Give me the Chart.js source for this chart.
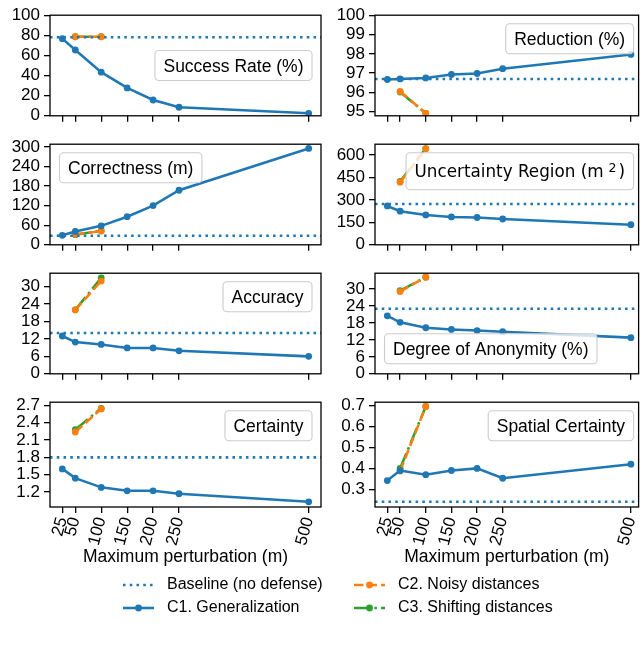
<!DOCTYPE html>
<html><head><meta charset="utf-8">
<script src="https://cdn.jsdelivr.net/npm/chart.js@4.4.1/dist/chart.umd.min.js"></script>
<style>
html,body{margin:0;padding:0;background:#fff;}
#wrap{position:relative;width:642px;height:648px;overflow:hidden;background:#fff;}
#wrap canvas{position:absolute;}
</style></head><body><div id="wrap"></div>
<script>
// ---------------- data ----------------
const X_VALUES = [25, 50, 100, 150, 200, 250, 500];
const X_DEFENSE = [50, 100];
const X_TICKS = [25, 50, 100, 150, 200, 250, 500];

const successBaseline = 78;
const successC1 = [76.7, 65.4, 43.4, 27.7, 15.7, 8.5, 2.5];
const successC2 = [78.6, 78.6];
const successC3 = [78.6, 78.6];
const successTicks = [0, 20, 40, 60, 80, 100];

const reductionBaseline = 96.7;
const reductionC1 = [96.67, 96.70, 96.75, 96.93, 96.98, 97.23, 97.97];
const reductionC2 = [96.05, 94.92];
const reductionC3 = [96.02, 94.92];
const reductionTicks = [95, 96, 97, 98, 99, 100];

const correctnessBaseline = 28;
const correctnessC1 = [29, 41, 58, 86, 120, 167, 295];
const correctnessC2 = [32, 42];
const correctnessC3 = [31, 43];
const correctnessTicks = [0, 60, 120, 180, 240, 300];

const uncertaintyBaseline = 272;
const uncertaintyC1 = [259, 224, 199, 186, 182, 172, 134];
const uncertaintyC2 = [418, 640];
const uncertaintyC3 = [423, 642];
const uncertaintyTicks = [0, 150, 300, 450, 600];

const accuracyBaseline = 14;
const accuracyC1 = [13, 10.9, 10.1, 8.9, 8.9, 7.9, 6];
const accuracyC2 = [22, 31.9];
const accuracyC3 = [22, 33];
const accuracyTicks = [0, 6, 12, 18, 24, 30];

const anonymityBaseline = 23;
const anonymityC1 = [20.5, 18.2, 16.3, 15.7, 15.3, 14.9, 12.8];
const anonymityC2 = [29.1, 34.2];
const anonymityC3 = [29.4, 34.2];
const anonymityTicks = [0, 6, 12, 18, 24, 30];

const certaintyBaseline = 1.8;
const certaintyC1 = [1.6, 1.44, 1.28, 1.22, 1.22, 1.17, 1.03];
const certaintyC2 = [2.24, 2.64];
const certaintyC3 = [2.28, 2.65];
const certaintyTicks = [1.2, 1.5, 1.8, 2.1, 2.4, 2.7];

const spatialBaseline = 0.241;
const spatialC1 = [0.342, 0.39, 0.37, 0.39, 0.40, 0.353, 0.42];
const spatialC2 = [0.387, 0.695];
const spatialC3 = [0.40, 0.695];
const spatialTicks = [0.3, 0.4, 0.5, 0.6, 0.7];

const SERIES_NAMES = ['Baseline (no defense)', 'C1. Generalization', 'C2. Noisy distances', 'C3. Shifting distances'];
const X_TITLE = 'Maximum perturbation (m)';

// ---------------- styles / layout ----------------
const BLUE = '#1f77b4', ORANGE = '#ff7f0e', GREEN = '#2ca02c';
const LW = 2.55;
const DASH_DOT = [LW * 1.0, LW * 1.65];
const DASH_DASH = [LW * 3.7, LW * 1.6];
const DASH_DASHDOT = [LW * 6.4, LW * 1.6, LW * 1.0, LW * 1.6];
const MARKER_R = 3.4;
const FONT = "'Liberation Sans', Arial, Helvetica, sans-serif";
const TICK_SIZE = 17;
const LABEL_SIZE = 17.5;

const ROW_TOP = [13, 142, 271, 400];
const ROW_H = 107;
const COLS = [
  {canvasLeft: 0, canvasWidth: 335, yAxisW: 50, padRight: 14, xMin: 1.25, xMax: 523.75, insetR: 9},
  {canvasLeft: 330, canvasWidth: 312, yAxisW: 45, padRight: 1, xMin: 1.0, xMax: 515, insetR: 5}
];

const PANELS = [
  {label: [{t: 'Success Rate (%)'}], base: successBaseline, c1: successC1, c2: successC2, c3: successC3, ticks: successTicks, yMin: 0, yMax: 100, col: 0, row: 0, anchor: 'cr'},
  {label: [{t: 'Reduction (%)'}], base: reductionBaseline, c1: reductionC1, c2: reductionC2, c3: reductionC3, ticks: reductionTicks, yMin: 94.79, yMax: 100, col: 1, row: 0, anchor: 'ur'},
  {label: [{t: 'Correctness (m)'}], base: correctnessBaseline, c1: correctnessC1, c2: correctnessC2, c3: correctnessC3, ticks: correctnessTicks, yMin: 0, yMax: 308, col: 0, row: 1, anchor: 'ul'},
  {label: [{t: 'Uncertainty Region (m', f: "'DejaVu Sans', sans-serif", s: 16.8}, {t: '2', f: "'DejaVu Sans', sans-serif", s: 12.5, rise: 5, gap: 5}, {t: ')', f: "'DejaVu Sans', sans-serif", s: 16.8, gap: 2}], bh: 37, base: uncertaintyBaseline, c1: uncertaintyC1, c2: uncertaintyC2, c3: uncertaintyC3, ticks: uncertaintyTicks, yMin: 0, yMax: 671, col: 1, row: 1, anchor: 'ur'},
  {label: [{t: 'Accuracy'}], base: accuracyBaseline, c1: accuracyC1, c2: accuracyC2, c3: accuracyC3, ticks: accuracyTicks, yMin: 0, yMax: 34.6, col: 0, row: 2, anchor: 'ur'},
  {label: [{t: 'Degree of Anonymity (%)'}], base: anonymityBaseline, c1: anonymityC1, c2: anonymityC2, c3: anonymityC3, ticks: anonymityTicks, yMin: 0, yMax: 35.6, col: 1, row: 2, anchor: 'll'},
  {label: [{t: 'Certainty'}], base: certaintyBaseline, c1: certaintyC1, c2: certaintyC2, c3: certaintyC3, ticks: certaintyTicks, yMin: 0.94, yMax: 2.756, col: 0, row: 3, anchor: 'ur'},
  {label: [{t: 'Spatial Certainty'}], base: spatialBaseline, c1: spatialC1, c2: spatialC2, c3: spatialC3, ticks: spatialTicks, yMin: 0.216, yMax: 0.7155, col: 1, row: 3, anchor: 'ur'}
];

Chart.defaults.font.family = FONT;
Chart.defaults.color = '#000';
Chart.defaults.animation = false;

const wrap = document.getElementById('wrap');

function roundRect(ctx, x, y, w, h, r) {
  ctx.beginPath();
  ctx.moveTo(x + r, y);
  ctx.lineTo(x + w - r, y); ctx.arcTo(x + w, y, x + w, y + r, r);
  ctx.lineTo(x + w, y + h - r); ctx.arcTo(x + w, y + h, x + w - r, y + h, r);
  ctx.lineTo(x + r, y + h); ctx.arcTo(x, y + h, x, y + h - r, r);
  ctx.lineTo(x, y + r); ctx.arcTo(x, y, x + r, y, r);
  ctx.closePath();
}

function makeFramePlugin(p, col) {
  return {
    id: 'frameAndBox',
    afterDatasetsDraw(chart) {
      const ctx = chart.ctx, a = chart.chartArea;
      ctx.save();
      ctx.lineWidth = 1.3; ctx.strokeStyle = '#000';
      ctx.strokeRect(a.left, a.top, a.right - a.left, a.bottom - a.top);
      const parts = p.label.map(pt => {
        const size = pt.s || LABEL_SIZE, fam = pt.f || FONT;
        ctx.font = size + 'px ' + fam;
        return {t: pt.t, font: ctx.font, size, w: ctx.measureText(pt.t).width, gap: pt.gap || 0, rise: pt.rise || 0};
      });
      const textW = parts.reduce((s, q) => s + q.w + q.gap, 0);
      const padX = 8.5, bh = p.bh || 30, bw = textW + 2 * padX;
      const insetR = col.insetR, insetT = 8.5, insetL = 9.5, insetB = 10;
      let bx, by;
      if (p.anchor === 'cr') { bx = a.right - insetR - bw; by = (a.top + a.bottom) / 2 - bh / 2; }
      else if (p.anchor === 'ur') { bx = a.right - insetR - bw; by = a.top + insetT; }
      else if (p.anchor === 'ul') { bx = a.left + insetL; by = a.top + insetT; }
      else { bx = a.left + insetL; by = a.bottom - insetB - bh; }
      roundRect(ctx, bx, by, bw, bh, 4);
      ctx.fillStyle = 'rgba(255,255,255,0.8)'; ctx.fill();
      ctx.lineWidth = 1.1; ctx.strokeStyle = '#cccccc'; ctx.stroke();
      const mainSize = parts[0].size;
      const baseY = by + bh / 2 + 0.36 * mainSize;
      let tx = bx + padX;
      ctx.fillStyle = '#000'; ctx.textBaseline = 'alphabetic'; ctx.textAlign = 'left';
      parts.forEach(q => {
        tx += q.gap;
        ctx.font = q.font;
        ctx.fillText(q.t, tx, baseY - q.rise);
        tx += q.w;
      });
      ctx.restore();
    }
  };
}

function pts(xs, ys) { return xs.map((x, i) => ({x: x, y: ys[i]})); }

PANELS.forEach(p => {
  const col = COLS[p.col];
  const bottomRow = p.row === 3;
  const xAxisH = bottomRow ? 61 : 10;
  const padTop = 12;
  const cTop = ROW_TOP[p.row] - padTop;
  const cHeight = padTop + ROW_H + xAxisH;
  const canvas = document.createElement('canvas');
  canvas.width = col.canvasWidth; canvas.height = cHeight;
  canvas.style.left = col.canvasLeft + 'px'; canvas.style.top = cTop + 'px';
  canvas.style.width = col.canvasWidth + 'px'; canvas.style.height = cHeight + 'px';
  wrap.appendChild(canvas);

  const lineBase = {fill: false, tension: 0, pointBorderWidth: 0, pointHoverRadius: 0};
  new Chart(canvas, {
    type: 'line',
    data: {
      datasets: [
        Object.assign({}, lineBase, {label: SERIES_NAMES[0], data: pts([col.xMin, col.xMax], [p.base, p.base]), borderColor: BLUE, borderWidth: LW, borderDash: DASH_DOT, pointRadius: 0}),
        Object.assign({}, lineBase, {label: SERIES_NAMES[1], data: pts(X_VALUES, p.c1), borderColor: BLUE, backgroundColor: BLUE, pointBackgroundColor: BLUE, borderWidth: LW, pointRadius: MARKER_R}),
        Object.assign({}, lineBase, {label: SERIES_NAMES[2], data: pts(X_DEFENSE, p.c2), borderColor: ORANGE, backgroundColor: ORANGE, pointBackgroundColor: ORANGE, borderWidth: LW, borderDash: DASH_DASH, pointRadius: MARKER_R}),
        Object.assign({}, lineBase, {label: SERIES_NAMES[3], data: pts(X_DEFENSE, p.c3), borderColor: GREEN, backgroundColor: GREEN, pointBackgroundColor: GREEN, borderWidth: LW, borderDash: DASH_DASHDOT, pointRadius: MARKER_R})
      ]
    },
    options: {
      responsive: false, maintainAspectRatio: false, animation: false, events: [],
      devicePixelRatio: 1,
      layout: {padding: {top: padTop, left: 0, right: col.padRight, bottom: 0}},
      plugins: {legend: {display: false}, tooltip: {enabled: false}, title: {display: false}},
      scales: {
        x: {
          type: 'linear', min: col.xMin, max: col.xMax,
          afterBuildTicks: s => { s.ticks = X_TICKS.map(v => ({value: v})); },
          afterFit: s => { s.height = xAxisH; s.paddingLeft = 0; s.paddingRight = 0; },
          ticks: {display: bottomRow, autoSkip: false, minRotation: 75, maxRotation: 75, padding: 2, font: {size: TICK_SIZE}, color: '#000', callback: v => String(v)},
          grid: {display: true, drawOnChartArea: false, drawTicks: true, tickLength: 6, color: '#000', lineWidth: 1.3},
          border: {display: false},
          title: {display: bottomRow, text: X_TITLE, font: {size: LABEL_SIZE}, color: '#000', padding: {top: 0, bottom: 0}}
        },
        y: {
          type: 'linear', min: p.yMin, max: p.yMax,
          afterBuildTicks: s => { s.ticks = p.ticks.map(v => ({value: v})); },
          afterFit: s => { s.width = col.yAxisW; },
          ticks: {autoSkip: false, font: {size: TICK_SIZE}, color: '#000', padding: 4, callback: v => String(v)},
          grid: {display: true, drawOnChartArea: false, drawTicks: true, tickLength: 6, color: '#000', lineWidth: 1.3},
          border: {display: false}
        }
      }
    },
    plugins: [makeFramePlugin(p, col)]
  });
});

// ---------------- legend ----------------
function makeHandle(color, dash, marker) {
  const c = document.createElement('canvas');
  c.width = 36; c.height = 14;
  const g = c.getContext('2d');
  g.strokeStyle = color; g.lineWidth = LW; g.setLineDash(dash);
  g.beginPath(); g.moveTo(0, 7); g.lineTo(31, 7); g.stroke();
  if (marker) { g.fillStyle = color; g.beginPath(); g.arc(15.5, 7, MARKER_R, 0, Math.PI * 2); g.fill(); }
  return c;
}

const LEGEND_GROUPS = [
  {left: 116, items: [[SERIES_NAMES[0], BLUE, DASH_DOT, false], [SERIES_NAMES[1], BLUE, [], true]]},
  {left: 347, items: [[SERIES_NAMES[2], ORANGE, DASH_DASH, true], [SERIES_NAMES[3], GREEN, DASH_DASHDOT, true]]}
];

LEGEND_GROUPS.forEach(grp => {
  const canvas = document.createElement('canvas');
  const w = 642 - grp.left, h = 72;
  canvas.width = w; canvas.height = h;
  canvas.style.left = grp.left + 'px'; canvas.style.top = '570px';
  canvas.style.width = w + 'px'; canvas.style.height = h + 'px';
  wrap.appendChild(canvas);
  new Chart(canvas, {
    type: 'line',
    data: {datasets: grp.items.map(it => ({label: it[0], data: [], borderColor: it[1], pointStyle: makeHandle(it[1], it[2], it[3])}))},
    options: {
      responsive: false, animation: false, events: [], devicePixelRatio: 1,
      layout: {padding: 0},
      scales: {x: {display: false}, y: {display: false}},
      plugins: {
        tooltip: {enabled: false},
        legend: {
          display: true, position: 'left', align: 'start', maxWidth: 300,
          labels: {
            usePointStyle: true, pointStyleWidth: 36, boxHeight: 14, padding: 7,
            font: {size: 16}, color: '#000',
            generateLabels: chart => chart.data.datasets.map((ds, i) => ({
              text: ds.label, pointStyle: ds.pointStyle, fillStyle: ds.borderColor, strokeStyle: ds.borderColor,
              lineWidth: 0, hidden: false, datasetIndex: i, fontColor: '#000'
            }))
          }
        }
      }
    }
  });
});
</script>
</body></html>
